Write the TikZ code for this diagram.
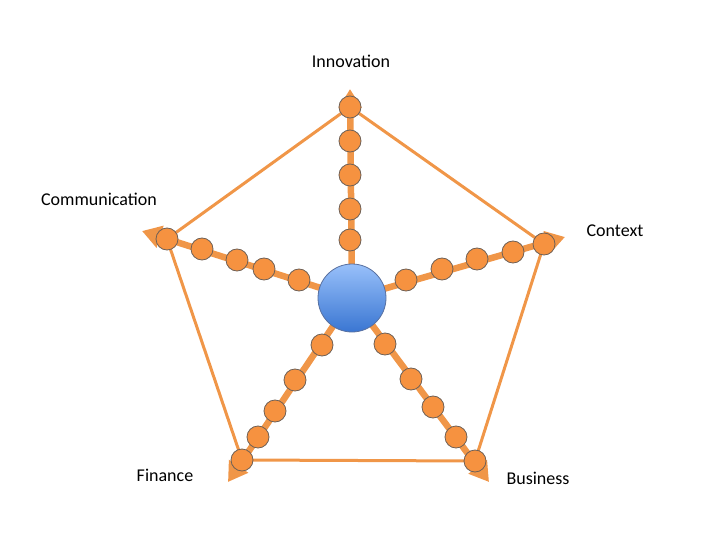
\documentclass[tikz,border=0pt]{standalone}
\usepackage{fontspec}
\setmainfont{Carlito}
\usetikzlibrary{arrows.meta,backgrounds}

\definecolor{spokeorange}{RGB}{240,150,72}
\definecolor{dotfill}{RGB}{246,146,64}
\definecolor{dotedge}{RGB}{110,96,86}
\definecolor{hubtop}{RGB}{152,192,250}
\definecolor{hubbot}{RGB}{58,118,210}
\definecolor{hubedge}{RGB}{88,112,160}

\tikzset{
  hub/.style={circle, draw=hubedge, line width=0.8pt, top color=hubtop, bottom color=hubbot, minimum size=68pt, inner sep=0pt},
  dot/.style={circle, draw=dotedge, line width=0.8pt, fill=dotfill, minimum size=22pt, inner sep=0pt},
  spoke/.style={draw=spokeorange, line width=6.5pt, -{Triangle[length=19pt,width=22pt]}},
  rim/.style={draw=spokeorange, line width=3pt},
  lbl/.style={font=\fontsize{18}{21}\selectfont, text=black, inner sep=0pt}
}

\begin{document}
\begin{tikzpicture}[x=1pt, y=-1pt]
\useasboundingbox (0,0) rectangle (720,540);

% hub in the middle
\node[hub] (hub) at (352,298) {};

% spoke ends
\coordinate (inn-tip) at (350,89);
\coordinate (com-tip) at (142,231);
\coordinate (ctx-tip) at (565,237);
\coordinate (fin-tip) at (228,482);
\coordinate (bus-tip) at (489,482);

% dots along the spokes, inner to outer
\foreach \name/\pts in {
  inn/{(350,240),(350,209),(350,175),(350,141),(350,107)},
  com/{(299,280),(264,269),(237,260),(202,249),(167,239)},
  ctx/{(406,280),(442,269),(477,259),(513,252),(544,244)},
  fin/{(322,345),(295,380),(275,411),(258,437),(242,460)},
  bus/{(385,344),(411,379),(433,407),(456,437),(475,461)}}{
  \foreach \p [count=\i] in \pts
    \node[dot] (\name-\i) at \p {};
}

\begin{scope}[on background layer]
  % outer ring
  \draw[rim] (inn-5.center) -- (ctx-5.center) -- (bus-5.center)
    -- (fin-5.center) -- (com-5.center) -- cycle;
  % spokes
  \foreach \name in {inn,com,ctx,fin,bus}
    \draw[spoke] (hub.center) -- (\name-tip);
\end{scope}

% labels
\node[lbl] (inn-lbl) at (351,61) {Innovation};
\node[lbl] (com-lbl) at (99,199) {Communication};
\node[lbl] (ctx-lbl) at (615,231) {Context};
\node[lbl] (fin-lbl) at (165,475) {Finance};
\node[lbl] (bus-lbl) at (538,478) {Business};
\end{tikzpicture}
\end{document}
